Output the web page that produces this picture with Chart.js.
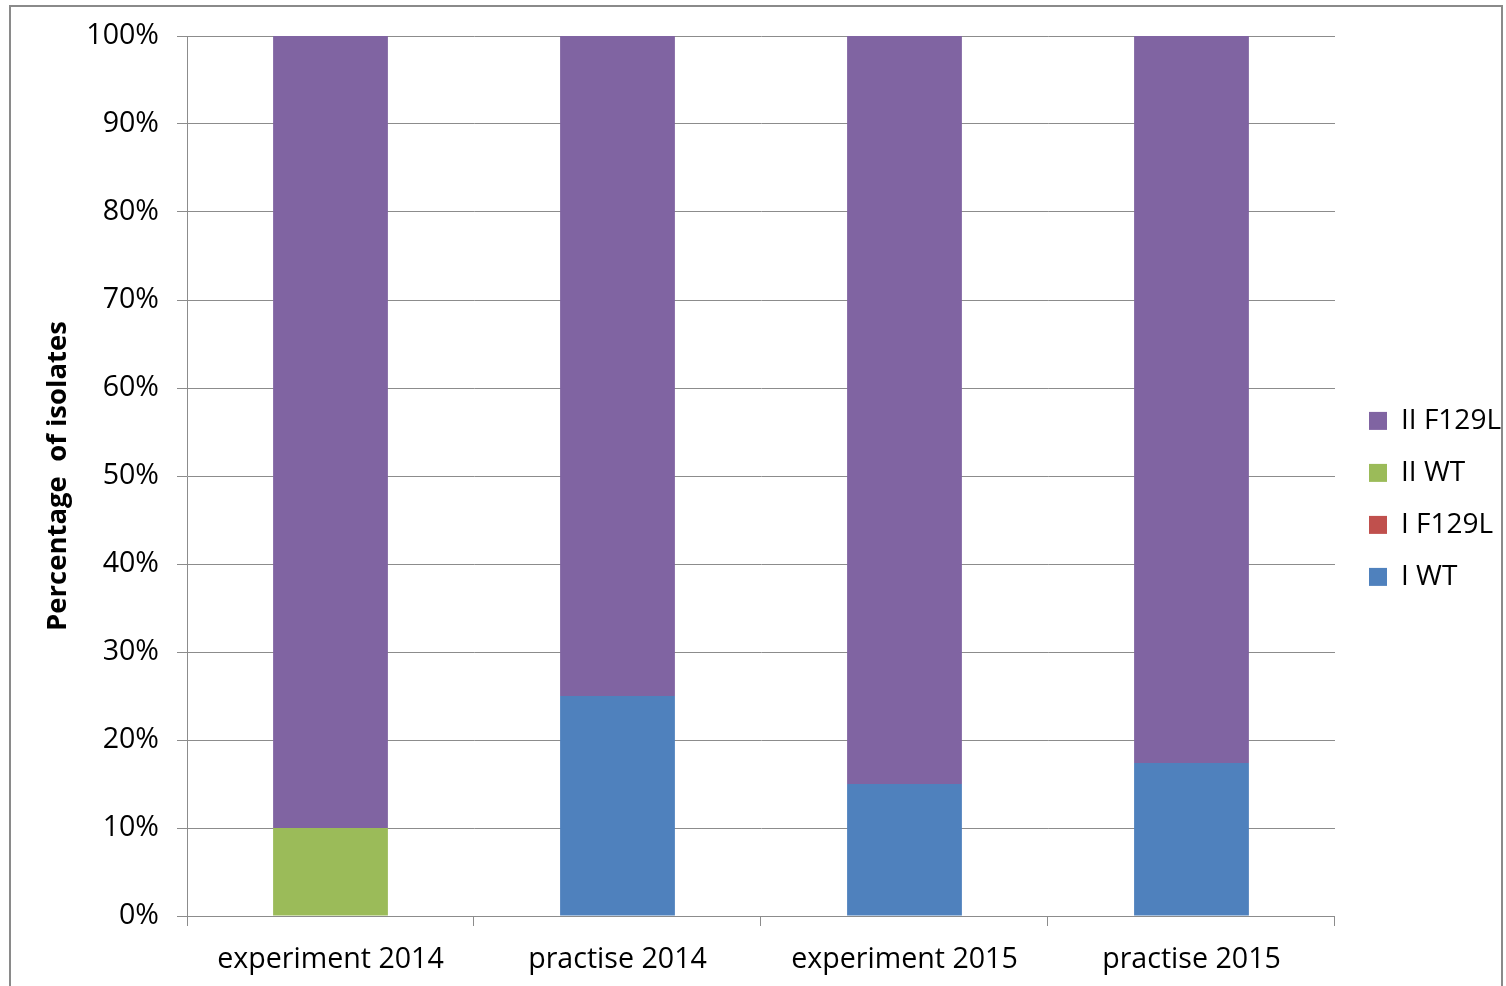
<!DOCTYPE html>
<html><head><meta charset="utf-8">
<script src="https://cdn.jsdelivr.net/npm/chart.js@4.4.0/dist/chart.umd.min.js"></script>
<style>
html,body{margin:0;padding:0;background:#fff;overflow:hidden;width:1506px;height:986px}
#frame{position:absolute;left:9px;top:5px;width:1494px;height:1000px;border:2px solid #8a8a8a;border-bottom:none;box-sizing:border-box}
#wrap{position:absolute;left:0;top:0;width:1506px;height:986px}
</style></head>
<body>
<div id="frame"></div>
<div id="wrap"><canvas id="c"></canvas></div>
<script>
const categories = ['experiment 2014', 'practise 2014', 'experiment 2015', 'practise 2015'];
const seriesNames = ['I WT', 'I F129L', 'II WT', 'II F129L'];
const iWT = [0, 25, 15, 17.4];
const iF129L = [0, 0, 0, 0];
const iiWT = [10, 0, 0, 0];
const iiF129L = [90, 75, 85, 82.6];
const yTicks = [0,10,20,30,40,50,60,70,80,90,100];
const colors = ['#4F81BD', '#C0504D', '#9BBB59', '#8064A2'];
const values = [iWT, iF129L, iiWT, iiF129L];

const FONT = '"Open Sans", sans-serif';
new Chart(document.getElementById('c'), {
  type: 'bar',
  data: {
    labels: categories,
    datasets: seriesNames.map((n, i) => ({
      label: n, data: values[i], backgroundColor: colors[i], borderWidth: 0,
      barPercentage: 0.4, categoryPercentage: 1.0
    }))
  },
  options: {
    responsive: true, maintainAspectRatio: false, animation: false,
    layout: { padding: { top: 36, left: 40, right: -5, bottom: 0 } },
    plugins: {
      tooltip: { enabled: false },
      legend: {
        position: 'right', reverse: true, fullSize: false,
        title: { display: true, text: ' ', font: { family: FONT, size: 24 }, padding: { top: 17, bottom: 0 } },
        labels: { boxWidth: 18, boxHeight: 18, padding: 24, color: '#000',
          font: { family: FONT, size: 28 } }
      }
    },
    scales: {
      x: {
        stacked: true,
        grid: { display: true, drawOnChartArea: false, drawTicks: true, tickLength: 10, color: '#8c8c8c', offset: true },
        border: { display: true, color: '#8c8c8c', width: 1 },
        ticks: { color: '#000', font: { family: FONT, size: 28.6 }, padding: 17, maxRotation: 0 },
        afterFit: s => { s.height = 70; }
      },
      y: {
        stacked: true, min: 0, max: 100,
        afterBuildTicks: s => { s.ticks = yTicks.map(v => ({ value: v })); },
        grid: { color: '#8c8c8c', tickLength: 10, drawTicks: true },
        border: { display: true, color: '#8c8c8c', width: 1 },
        ticks: { color: '#000', font: { family: FONT, size: 28.6 }, padding: 18, callback: v => v + '%' },
        title: { display: true, text: 'Percentage  of isolates', color: '#000',
          font: { family: FONT, size: 27.5, weight: 'bold' }, padding: { top: 2, bottom: 0 } },
        afterFit: s => { s.width = 147; }
      },
      gap: {
        position: 'right', display: true, min: 0, max: 100,
        grid: { display: false }, border: { display: false },
        ticks: { display: false },
        afterFit: s => { s.width = 10; }
      }
    }
  }
});
</script>
</body></html>
